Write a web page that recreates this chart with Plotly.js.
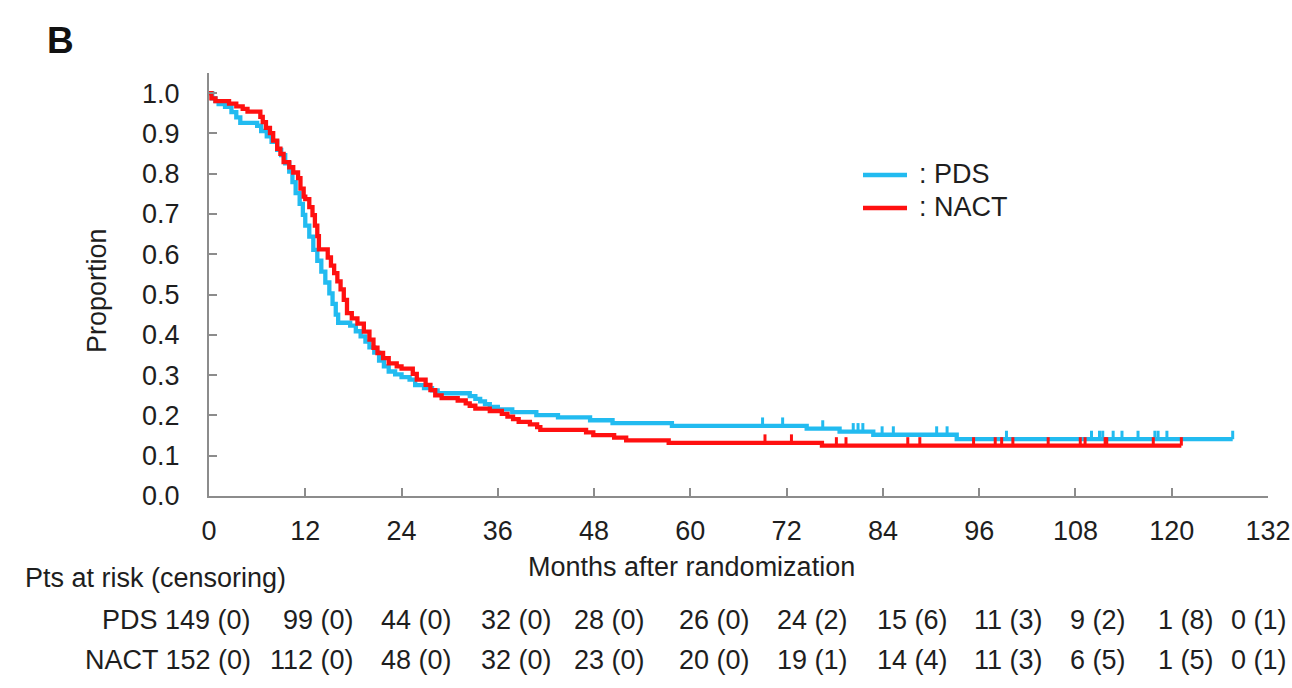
<!DOCTYPE html>
<html>
<head>
<meta charset="utf-8">
<script src="https://cdn.plot.ly/plotly-3.0.1.min.js"></script>
<style>
  html, body { margin: 0; padding: 0; background: #ffffff; }
  #chart { width: 1292px; height: 688px; }
</style>
</head>
<body>
<div id="chart"></div>
<script>
// Axis ticks
const monthTicks = [0, 12, 24, 36, 48, 60, 72, 84, 96, 108, 120, 132];
const proportionTicks = [0, 0.1, 0.2, 0.3, 0.4, 0.5, 0.6, 0.7, 0.8, 0.9, 1.0];

// Kaplan-Meier steps, PDS arm: time of each drop (months) and the proportion after it
const pdsTime = [0, 0.4, 0.8, 1.2, 2.0, 2.8, 3.4, 3.9, 6.0, 6.5, 7.2, 7.8, 8.5, 9.0, 9.5, 10.0,
  10.4, 10.8, 11.3, 11.7, 12.0, 12.5, 13.0, 13.5, 14.0, 14.5, 15.0, 15.4, 15.8, 16.1, 17.6,
  18.3, 18.9, 19.5, 20.0, 20.6, 21.2, 21.8, 22.4, 23.2, 24.0, 25.0, 25.7, 26.8, 27.8, 28.5,
  32.5, 33.2, 33.8, 34.4, 35.0, 36.0, 37.8, 40.8, 43.5, 47.5, 50.3, 57.7, 74.5, 78.6, 82.8,
  93.2, 127.6];
const pdsSurv = [1.0, 0.987, 0.980, 0.973, 0.966, 0.953, 0.940, 0.926, 0.919, 0.906, 0.893,
  0.879, 0.859, 0.846, 0.826, 0.805, 0.779, 0.752, 0.725, 0.698, 0.671, 0.644, 0.611, 0.584,
  0.557, 0.530, 0.503, 0.477, 0.450, 0.430, 0.423, 0.409, 0.396, 0.383, 0.369, 0.356, 0.336,
  0.322, 0.309, 0.302, 0.295, 0.289, 0.275, 0.268, 0.262, 0.255, 0.248, 0.241, 0.235, 0.228,
  0.221, 0.215, 0.208, 0.201, 0.195, 0.188, 0.181, 0.174, 0.167, 0.160, 0.152, 0.141, 0.141];
const pdsCensor = [69.0, 71.5, 76.5, 80.3, 80.9, 81.5, 83.9, 85.3, 90.7, 92.0, 99.4, 110.0,
  111.0, 111.4, 112.7, 113.8, 115.8, 117.9, 118.3, 119.4, 127.6];

// Kaplan-Meier steps, NACT arm
const nactTime = [0, 0.3, 0.8, 2.5, 3.4, 4.2, 4.8, 6.4, 6.7, 7.1, 7.6, 8.0, 8.5, 8.9, 9.3,
  10.0, 10.5, 11.1, 11.4, 11.8, 12.0, 12.5, 12.9, 13.2, 13.5, 13.7, 14.8, 15.2, 15.6, 16.0,
  16.4, 16.8, 17.2, 17.8, 18.5, 19.3, 20.0, 20.5, 21.0, 21.7, 22.4, 23.4, 24.0, 25.4, 25.9,
  27.0, 27.6, 28.2, 29.0, 31.0, 32.0, 32.5, 33.2, 35.0, 36.5, 37.2, 37.9, 38.6, 40.0, 40.9,
  41.3, 47.0, 47.9, 50.5, 52.0, 57.3, 76.4, 121.2];
const nactSurv = [1.0, 0.987, 0.980, 0.974, 0.967, 0.961, 0.954, 0.941, 0.928, 0.914, 0.901,
  0.882, 0.862, 0.849, 0.829, 0.816, 0.803, 0.789, 0.763, 0.743, 0.737, 0.717, 0.697, 0.671,
  0.645, 0.612, 0.592, 0.572, 0.553, 0.533, 0.513, 0.487, 0.454, 0.441, 0.428, 0.408, 0.388,
  0.368, 0.355, 0.342, 0.329, 0.322, 0.316, 0.303, 0.289, 0.276, 0.263, 0.250, 0.243, 0.237,
  0.230, 0.224, 0.217, 0.211, 0.204, 0.197, 0.191, 0.184, 0.178, 0.171, 0.164, 0.158, 0.151,
  0.145, 0.138, 0.132, 0.125, 0.125];
const nactCensor = [69.3, 72.6, 78.2, 79.4, 87.1, 88.6, 95.3, 98.0, 98.8, 100.2, 104.6,
  108.6, 109.2, 111.7, 111.9, 117.7, 121.2];

// Numbers at risk (censored in the preceding interval) at each 12-month mark
const pdsAtRisk = ['149 (0)', '99 (0)', '44 (0)', '32 (0)', '28 (0)', '26 (0)', '24 (2)',
  '15 (6)', '11 (3)', '9 (2)', '1 (8)', '0 (1)'];
const nactAtRisk = ['152 (0)', '112 (0)', '48 (0)', '32 (0)', '23 (0)', '20 (0)', '19 (1)',
  '14 (4)', '11 (3)', '6 (5)', '1 (5)', '0 (1)'];
const groupNames = ['PDS', 'NACT'];

// Colours
const pdsColor = '#22bbf0';
const nactColor = '#ff1010';
const axisColor = '#8c8c8c';
const textColor = '#1e1e1e';
const fontFamily = 'Liberation Sans, Arial, Helvetica, sans-serif';

// Page geometry (px) and helpers to place text in paper coordinates
const W = 1292, H = 688;
const M = { l: 209, r: 24, t: 73, b: 192 };
const plotW = W - M.l - M.r, plotH = H - M.t - M.b;
const px = (x) => (x - M.l) / plotW;
const py = (y) => (H - M.b - y) / plotH;

// Right edges of the at-risk table columns
const riskColRight = [253, 356, 454, 554, 647, 752, 850, 950, 1045, 1128, 1216, 1289];
const riskRowY = [620, 660];

function survivalAt(times, surv, t) {
  let s = surv[0];
  for (let i = 0; i < times.length; i++) {
    if (times[i] <= t) s = surv[i]; else break;
  }
  return s;
}

const tickHeight = 0.021;
const lineWidth = 4.3;

function curveTrace(name, times, surv, color) {
  return {
    type: 'scatter', mode: 'lines', name: name,
    x: times, y: surv,
    line: { shape: 'hv', color: color, width: lineWidth },
    cliponaxis: false, showlegend: false, hoverinfo: 'x+y'
  };
}

function censorTrace(name, censor, times, surv, color) {
  const ys = censor.map(t => survivalAt(times, surv, t));
  return {
    type: 'scatter', mode: 'markers', name: name + ' censored',
    x: censor, y: ys,
    marker: { size: 1, opacity: 0, color: color },
    error_y: {
      type: 'data', symmetric: false,
      array: censor.map(() => tickHeight), arrayminus: censor.map(() => 0),
      width: 0, thickness: 3, color: color
    },
    cliponaxis: false, showlegend: false, hoverinfo: 'skip'
  };
}

const traces = [
  curveTrace('PDS', pdsTime, pdsSurv, pdsColor),
  curveTrace('NACT', nactTime, nactSurv, nactColor),
  censorTrace('PDS', pdsCensor, pdsTime, pdsSurv, pdsColor),
  censorTrace('NACT', nactCensor, nactTime, nactSurv, nactColor)
];

const annotations = [];
function addText(text, x, y, opts) {
  annotations.push(Object.assign({
    text: text, xref: 'paper', yref: 'paper', x: px(x), y: py(y),
    xanchor: 'center', yanchor: 'middle', showarrow: false,
    font: { family: fontFamily, size: 27, color: textColor }
  }, opts || {}));
}

addText('<b>B</b>', 45, 40, { xanchor: 'left', font: { family: fontFamily, size: 37, color: '#111' } });
addText('Proportion', 97, 291, { textangle: -90 });
addText('Months after randomization', 691, 567);
addText('Pts at risk (censoring)', 23, 578, { xanchor: 'left' });
addText(': PDS', 917, 174, { xanchor: 'left' });
addText(': NACT', 917, 207, { xanchor: 'left' });

[pdsAtRisk, nactAtRisk].forEach((row, r) => {
  row.forEach((cell, c) => {
    const label = c === 0 ? groupNames[r] + ' ' + cell : cell;
    addText(label, riskColRight[c], riskRowY[r], { xanchor: 'right' });
  });
});

const legendLine = (y, color) => ({
  type: 'line', xref: 'paper', yref: 'paper',
  x0: px(863), x1: px(907), y0: py(y), y1: py(y),
  line: { color: color, width: lineWidth }
});

const axisCommon = {
  showline: true, linecolor: axisColor, linewidth: 2,
  ticks: 'inside', ticklen: 8, tickwidth: 2, tickcolor: axisColor,
  showgrid: false, zeroline: false, fixedrange: true,
  tickfont: { family: fontFamily, size: 27, color: textColor }
};

const layout = {
  width: W, height: H,
  margin: M,
  paper_bgcolor: '#ffffff', plot_bgcolor: '#ffffff',
  showlegend: false,
  xaxis: Object.assign({}, axisCommon, {
    range: [0, 132], tickmode: 'array', tickvals: monthTicks,
    ticktext: monthTicks.map(String), ticklabelstandoff: 10
  }),
  yaxis: Object.assign({}, axisCommon, {
    range: [0, 1.05], tickmode: 'array', tickvals: proportionTicks,
    ticktext: proportionTicks.map(v => v.toFixed(1)), ticklabelstandoff: 22
  }),
  shapes: [legendLine(175, pdsColor), legendLine(208, nactColor)],
  annotations: annotations
};

Plotly.newPlot('chart', traces, layout, { displayModeBar: false, staticPlot: true });
</script>
</body>
</html>
